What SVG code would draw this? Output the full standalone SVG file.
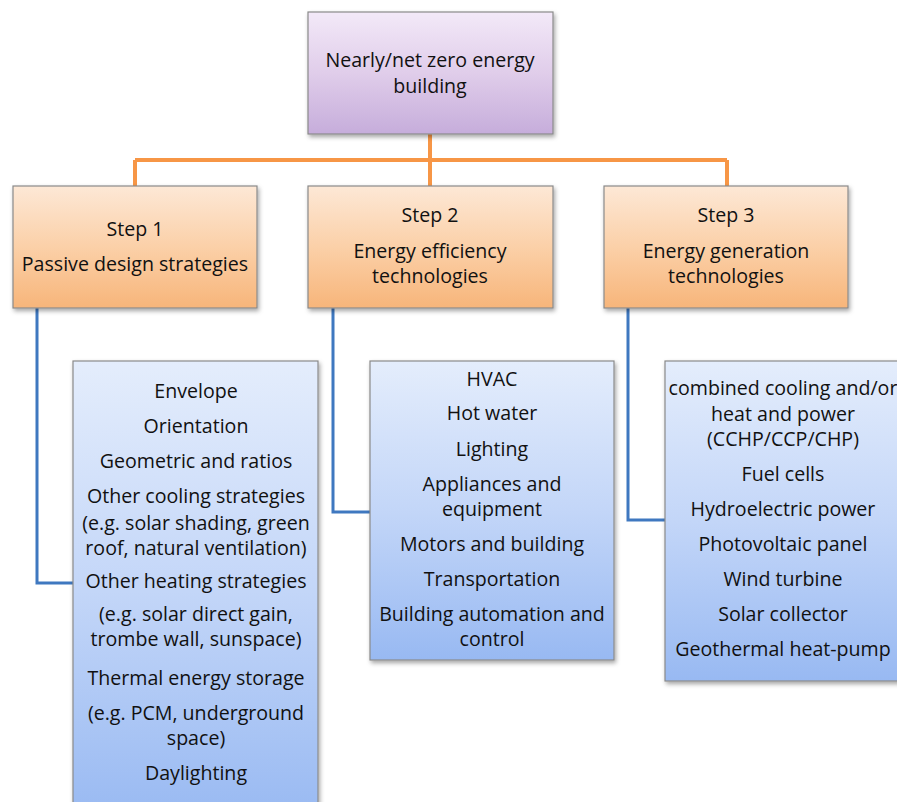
<svg xmlns="http://www.w3.org/2000/svg" width="897" height="802" viewBox="0 0 897 802">
<style>
text{font-family:"Open Sans","Noto Sans","Liberation Sans",sans-serif;font-size:19.6px;fill:#111;text-anchor:middle}
.box{stroke:#8a8a8a;stroke-width:1.2;filter:url(#sh)}
.or{stroke:#f79646;stroke-width:4;fill:none}
.bl{stroke:#3f78c0;stroke-width:3;fill:none}
</style>
<defs>
<linearGradient id="gp" x1="0" y1="0" x2="0" y2="1"><stop offset="0" stop-color="#f3e9f8"/><stop offset="0.5" stop-color="#e0cdea"/><stop offset="1" stop-color="#c6addb"/></linearGradient>
<linearGradient id="go" x1="0" y1="0" x2="0" y2="1"><stop offset="0" stop-color="#fde8d6"/><stop offset="0.5" stop-color="#fbd0a8"/><stop offset="1" stop-color="#f7b57a"/></linearGradient>
<linearGradient id="gb" x1="0" y1="0" x2="0" y2="1"><stop offset="0" stop-color="#e4edfc"/><stop offset="0.5" stop-color="#c3d6f8"/><stop offset="1" stop-color="#98b9f2"/></linearGradient>
<filter id="sh" x="-10%" y="-10%" width="120%" height="120%"><feDropShadow dx="1.5" dy="2.5" stdDeviation="2" flood-color="#000" flood-opacity="0.35"/></filter>
</defs>
<g id="connectors">
<path class="or" d="M430 134V186M135 160H727M135 160V186M727 160V186"/>
<path class="bl" d="M37 308V583H73M333 308V512H370M628 308V520H665"/>
</g>
<g id="root"><rect class="box" x="308" y="12" width="245" height="122" fill="url(#gp)"/>
<text x="430" y="67">Nearly/net zero energy</text><text x="430" y="93">building</text></g>
<g id="step1"><rect class="box" x="13" y="186" width="244" height="122" fill="url(#go)"/>
<text x="135" y="236">Step 1</text><text x="135" y="271">Passive design strategies</text></g>
<g id="step2"><rect class="box" x="308" y="186" width="245" height="122" fill="url(#go)"/>
<text x="430" y="222">Step 2</text><text x="430" y="258">Energy efficiency</text><text x="430" y="283">technologies</text></g>
<g id="step3"><rect class="box" x="604" y="186" width="244" height="122" fill="url(#go)"/>
<text x="726" y="222">Step 3</text><text x="726" y="258">Energy generation</text><text x="726" y="283">technologies</text></g>
<g id="list1"><rect class="box" x="73" y="361" width="245" height="460" fill="url(#gb)"/>
<text x="196" y="398">Envelope</text><text x="196" y="433">Orientation</text><text x="196" y="468">Geometric and ratios</text><text x="196" y="503">Other cooling strategies</text><text x="196" y="530">(e.g. solar shading, green</text><text x="196" y="555">roof, natural ventilation)</text><text x="196" y="588">Other heating strategies</text><text x="196" y="621">(e.g. solar direct gain,</text><text x="196" y="646">trombe wall, sunspace)</text><text x="196" y="685">Thermal energy storage</text><text x="196" y="720">(e.g. PCM, underground</text><text x="196" y="745">space)</text><text x="196" y="780">Daylighting</text></g>
<g id="list2"><rect class="box" x="370" y="361" width="244" height="299" fill="url(#gb)"/>
<text x="492" y="386">HVAC</text><text x="492" y="420">Hot water</text><text x="492" y="456">Lighting</text><text x="492" y="491">Appliances and</text><text x="492" y="516">equipment</text><text x="492" y="551">Motors and building</text><text x="492" y="586">Transportation</text><text x="492" y="621">Building automation and</text><text x="492" y="646">control</text></g>
<g id="list3"><rect class="box" x="665" y="361" width="250" height="320" fill="url(#gb)"/>
<text x="783" y="395">combined cooling and/or</text><text x="783" y="421">heat and power</text><text x="783" y="446">(CCHP/CCP/CHP)</text><text x="783" y="481">Fuel cells</text><text x="783" y="516">Hydroelectric power</text><text x="783" y="551">Photovoltaic panel</text><text x="783" y="586">Wind turbine</text><text x="783" y="621">Solar collector</text><text x="783" y="656">Geothermal heat-pump</text></g>
</svg>
